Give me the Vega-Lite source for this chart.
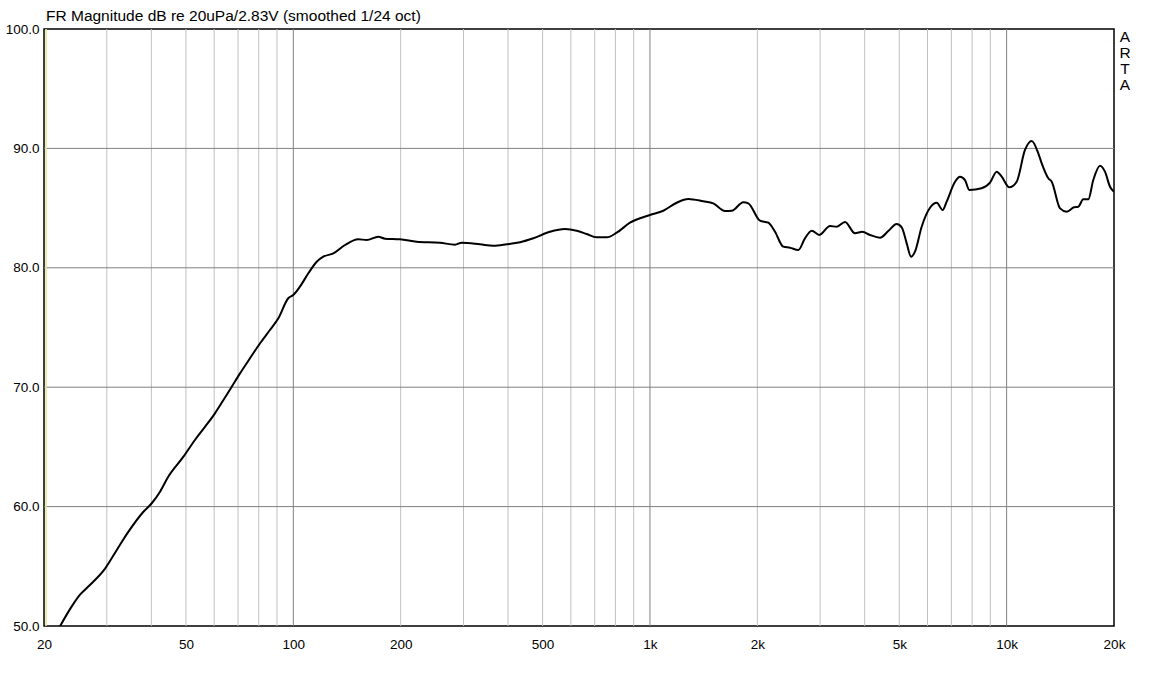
{
  "$schema": "https://vega.github.io/schema/vega-lite/v6.json",
  "autosize": "none",
  "padding": {"left": 44, "top": 29, "right": 43, "bottom": 47},
  "width": 1070,
  "height": 597,
  "background": "white",
  "title": {
    "text": "FR Magnitude dB re 20uPa/2.83V (smoothed 1/24 oct)",
    "anchor": "start",
    "frame": "group",
    "font": "Liberation Sans",
    "fontSize": 15.5,
    "fontWeight": "normal",
    "color": "black",
    "baseline": "alphabetic",
    "offset": 6,
    "dx": 2,
    "dy": 20
  },
  "config": {
    "view": {"stroke": "black", "strokeWidth": 1.5},
    "axis": {
      "labelFont": "Liberation Sans",
      "labelFontSize": 13.5,
      "labelColor": "black",
      "ticks": false,
      "domain": false,
      "grid": false,
      "title": null,
      "labelFlush": false,
      "labelOverlap": false,
      "labelBound": false
    }
  },
  "datasets": {
    "response": [
      {"f": 22.2, "db": 50.0},
      {"f": 23.9, "db": 51.62},
      {"f": 25.2, "db": 52.6},
      {"f": 26.9, "db": 53.43},
      {"f": 29.7, "db": 54.83},
      {"f": 32.0, "db": 56.37},
      {"f": 34.5, "db": 57.9},
      {"f": 38.0, "db": 59.57},
      {"f": 40.1, "db": 60.28},
      {"f": 42.3, "db": 61.25},
      {"f": 44.6, "db": 62.5},
      {"f": 49.2, "db": 64.18},
      {"f": 53.0, "db": 65.58},
      {"f": 56.6, "db": 66.69},
      {"f": 60.3, "db": 67.81},
      {"f": 63.7, "db": 68.93},
      {"f": 67.2, "db": 70.04},
      {"f": 70.9, "db": 71.16},
      {"f": 75.6, "db": 72.42},
      {"f": 80.7, "db": 73.68},
      {"f": 86.0, "db": 74.79},
      {"f": 90.8, "db": 75.77},
      {"f": 96.8, "db": 77.45},
      {"f": 100, "db": 77.72},
      {"f": 104.4, "db": 78.42},
      {"f": 110.2, "db": 79.54},
      {"f": 116.3, "db": 80.51},
      {"f": 121.4, "db": 80.93},
      {"f": 129.5, "db": 81.21},
      {"f": 139.6, "db": 81.91},
      {"f": 152.1, "db": 82.39},
      {"f": 160.6, "db": 82.33},
      {"f": 173.1, "db": 82.6},
      {"f": 180.8, "db": 82.44},
      {"f": 199.1, "db": 82.39},
      {"f": 221.8, "db": 82.19},
      {"f": 257.8, "db": 82.1},
      {"f": 284.0, "db": 81.94},
      {"f": 296.6, "db": 82.1},
      {"f": 333.8, "db": 81.97},
      {"f": 363.8, "db": 81.85},
      {"f": 396.6, "db": 81.97},
      {"f": 432.2, "db": 82.14},
      {"f": 471.0, "db": 82.47},
      {"f": 524.4, "db": 83.02},
      {"f": 577.8, "db": 83.25},
      {"f": 623.0, "db": 83.11},
      {"f": 664.6, "db": 82.83},
      {"f": 708.8, "db": 82.55},
      {"f": 756.2, "db": 82.55},
      {"f": 806.8, "db": 82.94},
      {"f": 879.0, "db": 83.78},
      {"f": 1000, "db": 84.42},
      {"f": 1090, "db": 84.78},
      {"f": 1188, "db": 85.45},
      {"f": 1281, "db": 85.76},
      {"f": 1411, "db": 85.57},
      {"f": 1505, "db": 85.4},
      {"f": 1623, "db": 84.76},
      {"f": 1695, "db": 84.78},
      {"f": 1827, "db": 85.49},
      {"f": 1887, "db": 85.4},
      {"f": 2034, "db": 83.95},
      {"f": 2147, "db": 83.78},
      {"f": 2242, "db": 83.02},
      {"f": 2364, "db": 81.77},
      {"f": 2469, "db": 81.68},
      {"f": 2605, "db": 81.49},
      {"f": 2720, "db": 82.47},
      {"f": 2842, "db": 83.11},
      {"f": 2984, "db": 82.75},
      {"f": 3198, "db": 83.5},
      {"f": 3340, "db": 83.44},
      {"f": 3523, "db": 83.84},
      {"f": 3757, "db": 82.89},
      {"f": 3940, "db": 83.02},
      {"f": 4140, "db": 82.75},
      {"f": 4416, "db": 82.52},
      {"f": 4658, "db": 83.08},
      {"f": 4917, "db": 83.67},
      {"f": 5080, "db": 83.39},
      {"f": 5246, "db": 82.05},
      {"f": 5395, "db": 80.93},
      {"f": 5534, "db": 81.35},
      {"f": 5778, "db": 83.44},
      {"f": 6098, "db": 85.03},
      {"f": 6368, "db": 85.45},
      {"f": 6617, "db": 84.84},
      {"f": 6790, "db": 85.54},
      {"f": 7166, "db": 87.21},
      {"f": 7400, "db": 87.63},
      {"f": 7643, "db": 87.35},
      {"f": 7858, "db": 86.52},
      {"f": 8511, "db": 86.66},
      {"f": 8981, "db": 87.13},
      {"f": 9379, "db": 88.05},
      {"f": 9686, "db": 87.63},
      {"f": 10175, "db": 86.74},
      {"f": 10672, "db": 87.21},
      {"f": 11258, "db": 89.87},
      {"f": 11756, "db": 90.62},
      {"f": 12268, "db": 89.59},
      {"f": 12541, "db": 88.75},
      {"f": 13088, "db": 87.5},
      {"f": 13378, "db": 87.21},
      {"f": 14116, "db": 84.98},
      {"f": 14740, "db": 84.7},
      {"f": 15450, "db": 85.07},
      {"f": 15882, "db": 85.12},
      {"f": 16404, "db": 85.74},
      {"f": 16942, "db": 85.74},
      {"f": 17496, "db": 87.35},
      {"f": 18270, "db": 88.55},
      {"f": 18868, "db": 88.05},
      {"f": 19490, "db": 86.79},
      {"f": 20000, "db": 86.37}
    ],
    "vgrid": [
      {"f": 30, "major": false}, {"f": 40, "major": false}, {"f": 50, "major": false},
      {"f": 60, "major": false}, {"f": 70, "major": false}, {"f": 80, "major": false},
      {"f": 90, "major": false}, {"f": 100, "major": true},
      {"f": 200, "major": false}, {"f": 300, "major": false}, {"f": 400, "major": false},
      {"f": 500, "major": false}, {"f": 600, "major": false}, {"f": 700, "major": false},
      {"f": 800, "major": false}, {"f": 900, "major": false}, {"f": 1000, "major": true},
      {"f": 2000, "major": false}, {"f": 3000, "major": false}, {"f": 4000, "major": false},
      {"f": 5000, "major": false}, {"f": 6000, "major": false}, {"f": 7000, "major": false},
      {"f": 8000, "major": false}, {"f": 9000, "major": false}, {"f": 10000, "major": true}
    ],
    "hgrid": [
      {"db": 60}, {"db": 70}, {"db": 80}, {"db": 90}
    ],
    "marker": [
      {"f": 20.26}
    ],
    "brand": [
      {"f": 20000, "db": 100, "label": ["A", "R", "T", "A"]}
    ]
  },
  "layer": [
    {
      "data": {"name": "vgrid"},
      "mark": {"type": "rule", "strokeWidth": 1},
      "encoding": {
        "x": {"field": "f", "type": "quantitative", "scale": {"type": "log", "domain": [20, 20000], "nice": false}},
        "color": {"condition": {"test": "datum.major", "value": "#808080"}, "value": "#c0c0c0"}
      }
    },
    {
      "data": {"name": "hgrid"},
      "mark": {"type": "rule", "strokeWidth": 1, "color": "#808080"},
      "encoding": {
        "y": {"field": "db", "type": "quantitative", "scale": {"domain": [50, 100], "nice": false}}
      }
    },
    {
      "data": {"name": "marker"},
      "mark": {"type": "rule", "strokeWidth": 1.5, "color": "#e6e696"},
      "encoding": {
        "x": {"field": "f", "type": "quantitative"}
      }
    },
    {
      "data": {"name": "response"},
      "mark": {"type": "line", "color": "black", "strokeWidth": 2, "interpolate": "monotone", "clip": true},
      "encoding": {
        "x": {
          "field": "f",
          "type": "quantitative",
          "axis": {
            "values": [20, 50, 100, 200, 500, 1000, 2000, 5000, 10000, 20000],
            "labelExpr": "datum.value >= 1000 ? (datum.value / 1000) + 'k' : datum.value",
            "labelPadding": 11
          }
        },
        "y": {
          "field": "db",
          "type": "quantitative",
          "axis": {
            "values": [50, 60, 70, 80, 90, 100],
            "format": ".1f",
            "labelPadding": 5
          }
        }
      }
    },
    {
      "data": {"name": "brand"},
      "mark": {
        "type": "text",
        "font": "Liberation Sans",
        "fontSize": 15.5,
        "lineHeight": 16,
        "align": "center",
        "baseline": "top",
        "dx": 11,
        "dy": 1,
        "color": "black"
      },
      "encoding": {
        "x": {"field": "f", "type": "quantitative"},
        "y": {"field": "db", "type": "quantitative"},
        "text": {"field": "label"}
      }
    }
  ]
}
